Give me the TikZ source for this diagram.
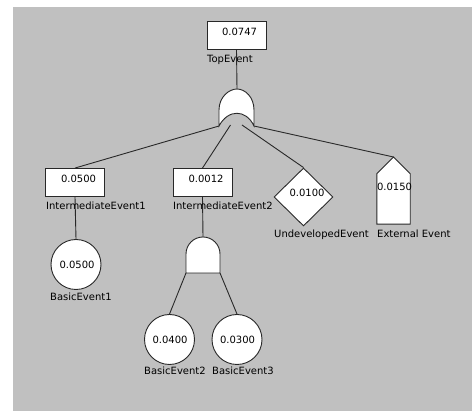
\documentclass[tikz,border=0pt]{standalone}
\usepackage{fontspec}
\setmainfont{DejaVu Sans}
\usetikzlibrary{shapes.geometric}
\definecolor{canvas}{RGB}{192,192,192}
\definecolor{ink}{RGB}{40,40,40}
\begin{document}
\begin{tikzpicture}[x=1pt,y=-1pt,
  every node/.style={font=\fontsize{10}{12}\selectfont, inner sep=0pt, text=black},
  link/.style={draw=ink, line width=0.9pt},
  outline/.style={draw=ink, line width=0.9pt, fill=white},
  eventbox/.style={outline, rectangle, minimum width=59pt, minimum height=28pt},
  basic/.style={outline, circle, minimum size=50pt},
  undeveloped/.style={outline, diamond, minimum width=59pt, minimum height=58pt},
  caption/.style={anchor=base west}]
\useasboundingbox (0,0) rectangle (472,411);
\fill[canvas] (13,7) rectangle (472,411);

% ---- gate anchor points ----
\coordinate (or-top) at (237,89);
\coordinate (or-left) at (219,126);
\coordinate (or-right) at (254,126);
\coordinate (or-in1) at (230.5,125);
\coordinate (or-in2) at (242,125);
\coordinate (and-top) at (203,237);
\coordinate (and-left) at (186,273);
\coordinate (and-right) at (220,273);
\coordinate (ext-apex) at (393.5,157);

% ---- events ----
\node[eventbox] (top) at (236.5,35) {};
\node[eventbox] (ie1) at (75,182.5) {};
\node[eventbox] (ie2) at (202.5,182.5) {};
\node[basic] (be1) at (76,264.5) {};
\node[basic] (be2) at (169.5,339.5) {};
\node[basic] (be3) at (237,339.5) {};
\node[undeveloped] (und) at (303.5,197) {};
\node[minimum width=33pt, minimum height=50pt] (ext) at (393.5,199) {};

% ---- connectors ----
\draw[link] (top.south) -- (or-top);
\draw[link] (or-left) -- (ie1.north);
\draw[link] (or-in1) -- (ie2.north);
\draw[link] (or-in2) -- (und.north);
\draw[link] (or-right) -- (ext-apex);
\draw[link] (ie1.south) -- (be1.north);
\draw[link] (ie2.south) -- (and-top);
\draw[link] (and-left) -- (be2.north);
\draw[link] (and-right) -- (be3.north);

% ---- OR gate ----
\draw[outline] (or-left) -- (219,110)
  .. controls (219,97) and (229,89) .. (or-top)
  .. controls (245,89) and (254,97) .. (254,110)
  -- (or-right)
  .. controls (246,109) and (228,109) .. (or-left) -- cycle;

% ---- AND gate (y axis points down, so the dome runs through 270 degrees) ----
\draw[outline] (and-left) -- (186,254) arc[start angle=180, end angle=360, radius=17]
  -- (and-right) -- cycle;

% ---- external event (house) ----
\draw[outline] (ext.south west) -- (ext.north west) -- (ext-apex)
  -- (ext.north east) -- (ext.south east) -- cycle;

% ---- probabilities ----
\node (top-p) at ([shift={(3,-3.5)}]top.center) {0.0747};
\node (ie1-p) at ([shift={(3.5,-3.5)}]ie1.center) {0.0500};
\node (ie2-p) at ([shift={(3.5,-3.5)}]ie2.center) {0.0012};
\node (be1-p) at ([shift={(1,0.5)}]be1.center) {0.0500};
\node (be2-p) at ([shift={(0.5,0)}]be2.center) {0.0400};
\node (be3-p) at ([shift={(0.5,0)}]be3.center) {0.0300};
\node (und-p) at ([shift={(3.5,-4)}]und.center) {0.0100};
\node (ext-p) at (394.5,186.5) {0.0150};

% ---- names ----
\node[caption] (top-n) at (207,62.5) {TopEvent};
\node[caption] (ie1-n) at (46,209.5) {IntermediateEvent1};
\node[caption] (ie2-n) at (173,209.5) {IntermediateEvent2};
\node[caption] (be1-n) at (50,301) {BasicEvent1};
\node[caption] (be2-n) at (144,374.5) {BasicEvent2};
\node[caption] (be3-n) at (212,374.5) {BasicEvent3};
\node[caption] (und-n) at (274,237.5) {UndevelopedEvent};
\node[caption] (ext-n) at (377,237.5) {External Event};
\end{tikzpicture}
\end{document}
